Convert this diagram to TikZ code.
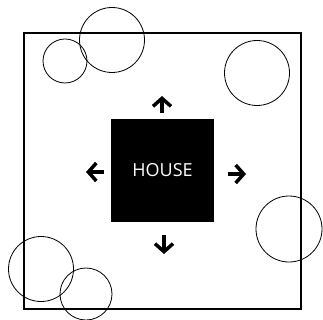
\documentclass[tikz,border=0pt]{standalone}
\usepackage{fontspec}
\setmainfont{Open Sans}
\usetikzlibrary{positioning,arrows.meta,calc}

\begin{document}
\begin{tikzpicture}[x=1pt,y=-1pt,
      plot/.style={draw=black,line width=2pt},
      tree/.style={draw=black,line width=0.8pt},
      house/.style={fill=black,minimum size=103pt,inner sep=0pt,text=white,
                    font=\fontsize{18}{18}\selectfont},
      arr/.style={line width=3.5pt,-{Straight Barb[length=8pt,width=18pt,line width=3.5pt]}}]
    \useasboundingbox (0,0) rectangle (323,320);
    \draw[plot] (24,33) rectangle (301,309);
    % trees
    \draw[tree] (112,40) circle (32.5);
    \draw[tree] (65,61) circle (22);
    \draw[tree] (257,73) circle (32.5);
    \draw[tree] (289,229) circle (33);
    \draw[tree] (41,269) circle (32.5);
    \draw[tree] (86,294) circle (26);
    % house and arrows
    \node[house] (h) at (162.5,170.5) {HOUSE};
    \coordinate (upA) at (162,113);  \coordinate (upB) at (162,96);
    \coordinate (dnA) at (164,235);  \coordinate (dnB) at (164,254);
    \coordinate (lfA) at (104,172);  \coordinate (lfB) at (86,172);
    \coordinate (rtA) at (228,174);  \coordinate (rtB) at (246,174);
    \draw[arr] (upA) -- (upB);
    \draw[arr] (dnA) -- (dnB);
    \draw[arr] (lfA) -- (lfB);
    \draw[arr] (rtA) -- (rtB);
  \end{tikzpicture}
\end{document}
